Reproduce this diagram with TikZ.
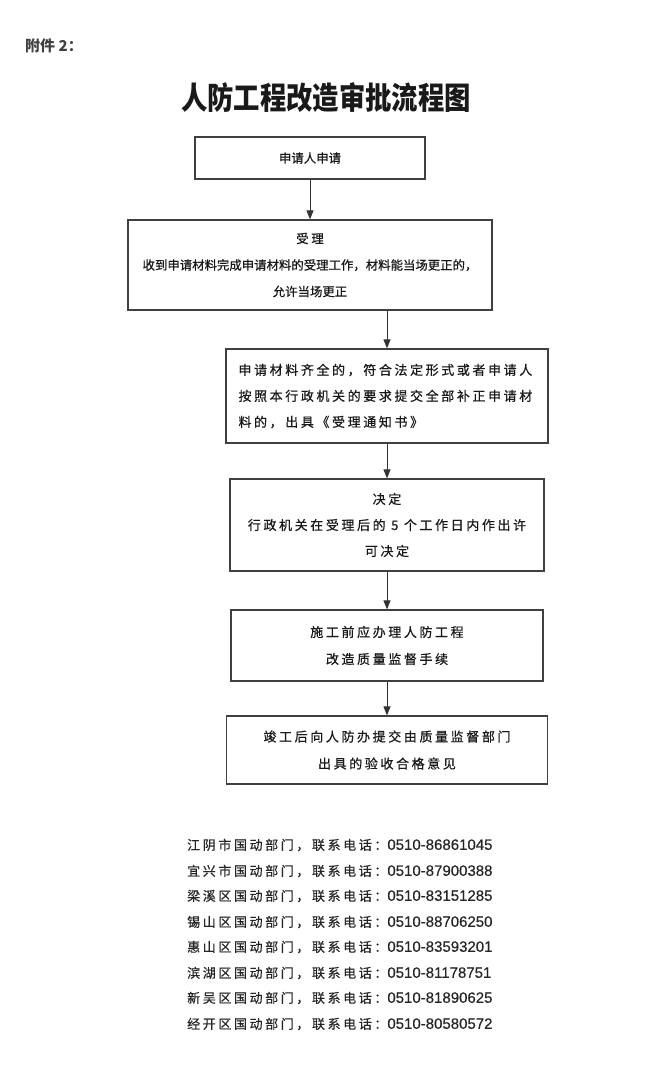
\documentclass[tikz,border=0pt]{standalone}
\usepackage{fontspec}
\setmainfont[FakeBold=0.4]{Liberation Sans}
\newfontfamily\cjkhead{Noto Sans CJK SC}
\newfontfamily\cjk[FakeBold=0.6]{Noto Sans CJK SC}
\newfontfamily\cjkwide[LetterSpace=20,FakeBold=0.6]{Noto Sans CJK SC}
\newcommand{\phonenum}[1]{{\rmfamily\fontsize{15}{15}\selectfont #1}}
\usetikzlibrary{arrows.meta}
\usetikzlibrary{positioning}

\begin{document}
\begin{tikzpicture}[
        x=1pt,
        y=-1pt,
        block/.style={
            rectangle,
            draw=black!75,
            line width=1.2pt,
            fill=white,
            text=black!90,
            align=center,
            inner sep=0pt
        },
        line/.style={
            draw=black!80,
            line width=1pt,
            -{Triangle[length=9pt,width=7pt]}
        },
        contact/.style={
            anchor=west,
            inner sep=0pt,
            text=black!85,
            font=\cjkwide\fontsize{13}{13}\selectfont
        },
        ]
        \useasboundingbox (0,0) rectangle (650,1068);

        \node [anchor=west, inner sep=0pt, text=black!75, font=\cjkhead\bfseries\fontsize{15}{15}\selectfont] (attach) at (25,46) {附件 2：};
        \node [inner sep=0pt, text=black!90, font=\cjkhead\bfseries\fontsize{31}{31}\selectfont] (title) at (326,98) {\scalebox{0.85}[1]{人防工程改造审批流程图}};

        \node [block, minimum width=230pt, minimum height=42pt, font=\cjk\fontsize{12.4}{26.5}\selectfont] (apply) at (310,158) {申请人申请};
        \node [block, minimum width=364pt, minimum height=90pt, font=\cjk\fontsize{12.4}{26.5}\selectfont] (accept) at (310,265) {受 理\\收到申请材料完成申请材料的受理工作，材料能当场更正的，\\允许当场更正};
        \node [block, align=left, text width=297pt, minimum width=322pt, minimum height=94pt, font=\cjkwide\fontsize{13}{26}\selectfont] (notice) at (387,396) {申请材料齐全的，符合法定形式或者申请人\\按照本行政机关的要求提交全部补正申请材\\料的，出具《受理通知书》};
        \node [block, minimum width=314pt, minimum height=92pt, font=\cjkwide\fontsize{13}{26}\selectfont] (decide) at (387,525) {决定\\行政机关在受理后的 5 个工作日内作出许\\可决定};
        \node [block, minimum width=312pt, minimum height=71pt, font=\cjkwide\fontsize{13}{27}\selectfont] (supervise) at (387,645.5) {施工前应办理人防工程\\改造质量监督手续};
        \node [block, minimum width=321pt, minimum height=68pt, font=\cjkwide\fontsize{13}{27}\selectfont] (complete) at (387,750) {竣工后向人防办提交由质量监督部门\\出具的验收合格意见};

        \path [line] (apply) -- (accept);
        \path [line] (notice.north |- accept.south) -- (notice);
        \path [line] (notice) -- (decide);
        \path [line] (decide) -- (supervise);
        \path [line] (supervise) -- (complete);

        \node [contact] (jiangyin) at (187,845) {江阴市国动部门，联系电话：\phonenum{0510-86861045}};
        \node [contact] (yixing) at (187,871) {宜兴市国动部门，联系电话：\phonenum{0510-87900388}};
        \node [contact] (liangxi) at (187,896) {梁溪区国动部门，联系电话：\phonenum{0510-83151285}};
        \node [contact] (xishan) at (187,922) {锡山区国动部门，联系电话：\phonenum{0510-88706250}};
        \node [contact] (huishan) at (187,947) {惠山区国动部门，联系电话：\phonenum{0510-83593201}};
        \node [contact] (binhu) at (187,973) {滨湖区国动部门，联系电话：\phonenum{0510-81178751}};
        \node [contact] (xinwu) at (187,998) {新吴区国动部门，联系电话：\phonenum{0510-81890625}};
        \node [contact] (jingkai) at (187,1024) {经开区国动部门，联系电话：\phonenum{0510-80580572}};
    \end{tikzpicture}
\end{document}
